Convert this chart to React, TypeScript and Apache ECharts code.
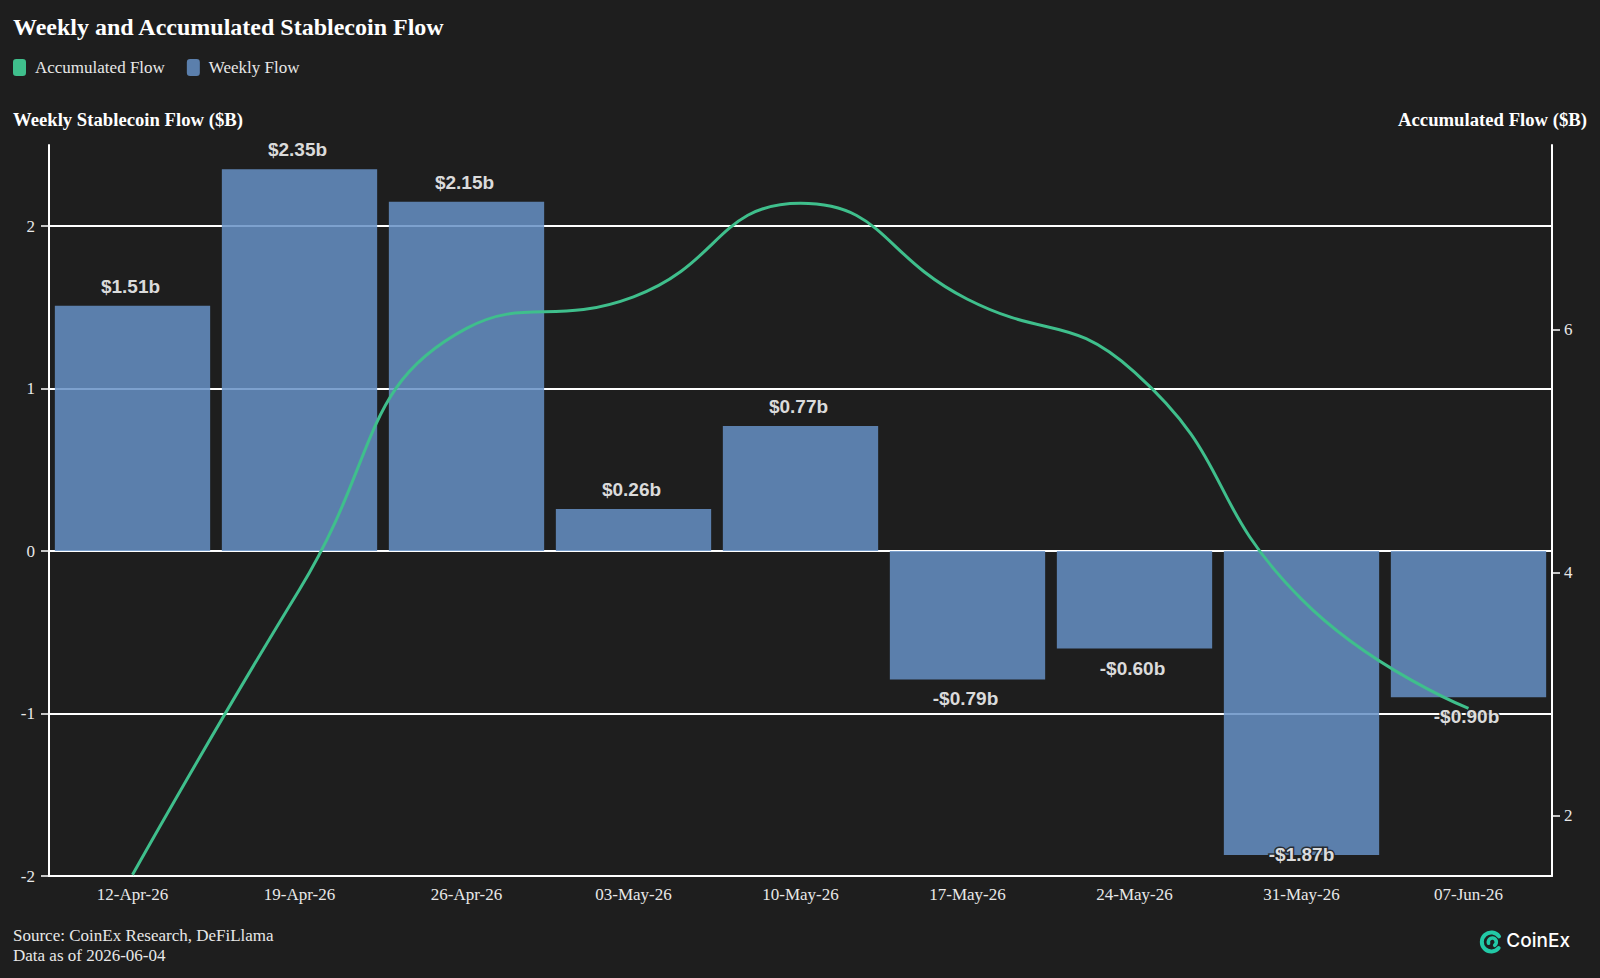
import React, { useEffect, useRef } from 'react';
import * as echarts from 'echarts';

// Week labels and flows in billions of USD
const weeks = ['12-Apr-26', '19-Apr-26', '26-Apr-26', '03-May-26', '10-May-26', '17-May-26', '24-May-26', '31-May-26', '07-Jun-26'];
const weeklyFlow = [1.51, 2.35, 2.15, 0.26, 0.77, -0.79, -0.6, -1.87, -0.9];
const accumulatedFlow = [1.51, 3.86, 6.01, 6.27, 7.04, 6.25, 5.65, 3.78, 2.88];

// Axis ticks
const leftTicks = [-2, -1, 0, 1, 2];
const rightTicks = [2, 4, 6];
const gridLines = [-1, 0, 1, 2];
const leftRange = [-2, 2.5];
const rightRange = [1.5, 7.52];

const SERIF = "'Liberation Serif', 'DejaVu Serif', serif";
const SANS = "'Liberation Sans', Arial, sans-serif";
const BG = '#1e1e1e';
const BAR = '#6690c6';
const LINE = '#3fbf8c';
const TXT = '#e8e8e8';
const LOGO = '#22c9a6';

const fmt = (v: number) => (v < 0 ? `-$${Math.abs(v).toFixed(2)}b` : `$${v.toFixed(2)}b`);

export default function App() {
  const ref = useRef<HTMLDivElement>(null);

  useEffect(() => {
    document.body.style.margin = '0';
    document.body.style.background = BG;
    if (!ref.current) return;
    const chart = echarts.init(ref.current, undefined, { renderer: 'svg' });

    // Negative labels go under the bar; a label that would fall past the axis floor is kept on the bar end
    const barData = weeklyFlow.map((v) => {
      let label: any;
      if (v >= 0) label = { position: 'top', distance: 10 };
      else if (v - leftRange[0] < 0.25) label = { position: 'bottom', distance: 10, offset: [0, -20] };
      else label = { position: 'bottom', distance: 10 };
      return { value: v, label };
    });

    const option: any = {
      animation: false,
      backgroundColor: BG,
      grid: { left: 49, right: 48, top: 145, bottom: 102, containLabel: false },
      legend: {
        left: 13,
        top: 59,
        padding: 0,
        itemWidth: 13,
        itemHeight: 17,
        itemGap: 22,
        icon: 'roundRect',
        data: ['Accumulated Flow', 'Weekly Flow'],
        textStyle: { color: TXT, fontFamily: SERIF, fontSize: 17, padding: [0, 0, 0, 4] },
      },
      xAxis: {
        type: 'category',
        data: weeks,
        boundaryGap: true,
        axisLine: { onZero: false, lineStyle: { color: '#ffffff', width: 2 } },
        axisTick: { alignWithLabel: true, length: 6, lineStyle: { color: '#ffffff', width: 1.5 } },
        axisLabel: { color: TXT, fontFamily: SERIF, fontSize: 17, margin: 10 },
        splitLine: { show: false },
      },
      yAxis: [
        {
          type: 'value',
          position: 'left',
          min: leftRange[0],
          max: leftRange[1],
          axisLine: { show: true, lineStyle: { color: '#ffffff', width: 2 } },
          axisTick: { show: true, length: 8, customValues: leftTicks, lineStyle: { color: '#ffffff', width: 1.5 } },
          axisLabel: { color: TXT, fontFamily: SERIF, fontSize: 17, margin: 14, customValues: leftTicks },
          splitLine: { show: false },
        },
        {
          type: 'value',
          position: 'right',
          min: rightRange[0],
          max: rightRange[1],
          axisLine: { show: true, lineStyle: { color: '#ffffff', width: 2 } },
          axisTick: { show: true, length: 8, customValues: rightTicks, lineStyle: { color: '#ffffff', width: 1.5 } },
          axisLabel: { color: TXT, fontFamily: SERIF, fontSize: 17, margin: 12, customValues: rightTicks },
          splitLine: { show: false },
        },
      ],
      series: [
        {
          name: 'Weekly Flow',
          type: 'bar',
          yAxisIndex: 0,
          barWidth: '93%',
          z: 2,
          itemStyle: { color: BAR, opacity: 0.85 },
          label: {
            show: true,
            color: '#ffffff',
            fontFamily: SANS,
            fontWeight: 'bold',
            fontSize: 19,
            offset: [-2, 0],
            textBorderColor: BG,
            textBorderWidth: 3,
            formatter: (p: any) => fmt(p.value),
          },
          data: barData,
          markLine: {
            silent: true,
            z: 1,
            symbol: ['none', 'none'],
            label: { show: false },
            emphasis: { disabled: true },
            lineStyle: { color: '#ffffff', width: 2, type: 'solid' },
            data: gridLines.map((v) => ({ yAxis: v })),
          },
        },
        {
          name: 'Accumulated Flow',
          type: 'line',
          yAxisIndex: 1,
          smooth: true,
          symbol: 'none',
          z: 3,
          lineStyle: { color: LINE, width: 3 },
          itemStyle: { color: LINE },
          data: accumulatedFlow,
        },
      ],
      graphic: [
        {
          type: 'text',
          left: 13,
          top: 15,
          style: { text: 'Weekly and Accumulated Stablecoin Flow', fill: '#ffffff', font: `bold 24px ${SERIF}` },
        },
        {
          type: 'text',
          left: 13,
          top: 110,
          style: { text: 'Weekly Stablecoin Flow ($B)', fill: '#ffffff', font: `bold 18.7px ${SERIF}` },
        },
        {
          type: 'text',
          right: 13,
          top: 110,
          style: { text: 'Accumulated Flow ($B)', fill: '#ffffff', font: `bold 18.7px ${SERIF}` },
        },
        {
          type: 'text',
          left: 13,
          top: 927,
          style: { text: 'Source: CoinEx Research, DeFiLlama', fill: TXT, font: `17px ${SERIF}` },
        },
        {
          type: 'text',
          left: 13,
          top: 947,
          style: { text: 'Data as of 2026-06-04', fill: TXT, font: `17px ${SERIF}` },
        },
        {
          type: 'group',
          right: 30,
          top: 930,
          children: [
            {
              type: 'arc',
              shape: { cx: 11, cy: 12, r: 9.5, startAngle: Math.PI * 0.22, endAngle: Math.PI * 1.8, clockwise: true },
              style: { stroke: LOGO, lineWidth: 4, fill: 'none', lineCap: 'round' },
            },
            {
              type: 'arc',
              shape: { cx: 12, cy: 12, r: 4, startAngle: Math.PI * 0.9, endAngle: Math.PI * 2.3, clockwise: true },
              style: { stroke: LOGO, lineWidth: 3.6, fill: 'none', lineCap: 'round' },
            },
            {
              type: 'text',
              x: 26,
              y: 1,
              style: { text: 'CoinEx', fill: '#ffffff', font: `500 19px Inter, 'Open Sans', sans-serif` },
            },
          ],
        },
      ],
    };

    chart.setOption(option);
    return () => chart.dispose();
  }, []);

  return (
    <div style={{ position: 'fixed', left: 0, top: 0, width: 1600, height: 978, background: BG }}>
      <div ref={ref} style={{ width: 1600, height: 978 }} />
    </div>
  );
}
